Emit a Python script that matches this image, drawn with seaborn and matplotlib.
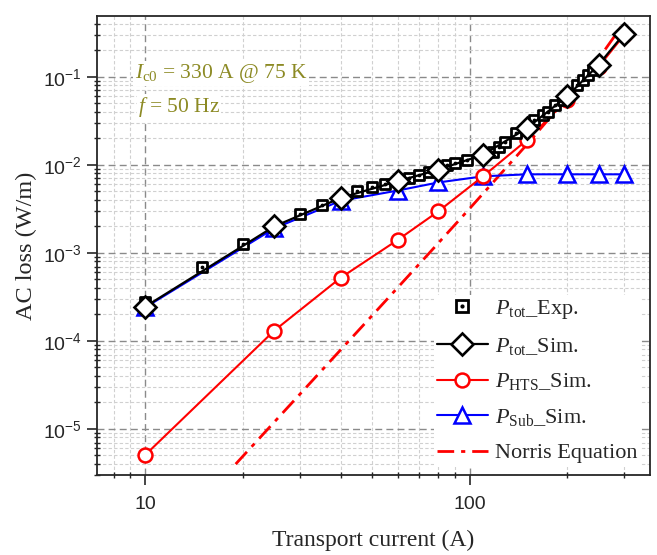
import numpy as np
import pandas as pd
import matplotlib
matplotlib.use("Agg")
import matplotlib.pyplot as plt
import seaborn as sns
from matplotlib.lines import Line2D
from matplotlib.legend_handler import HandlerTuple
from matplotlib.ticker import LogLocator, FuncFormatter, NullFormatter

# ---------------- data ----------------
exp_current = [10, 15, 20, 30, 35, 45, 50, 55, 65, 70, 75, 85, 90, 98, 118, 123, 129,
               139, 158, 168, 174, 184, 194, 215, 223, 231, 240]
exp_loss = [2.8e-4, 6.9e-4, 1.27e-3, 2.75e-3, 3.5e-3, 5.1e-3, 5.6e-3, 6.1e-3, 7.1e-3,
            7.7e-3, 8.3e-3, 1.0e-2, 1.05e-2, 1.14e-2, 1.4e-2, 1.6e-2, 1.8e-2,
            2.3e-2, 3.2e-2, 3.7e-2, 4.0e-2, 4.8e-2, 5.5e-2, 8.1e-2, 9.2e-2, 1.05e-1, 1.2e-1]

sim_current = [10, 25, 40, 60, 80, 110, 150, 200, 250, 300]
tot_sim = [2.45e-4, 2.0e-3, 4.2e-3, 6.5e-3, 8.8e-3, 1.3e-2, 2.6e-2, 6.0e-2, 1.37e-1, 3.1e-1]
hts_sim = [5.07e-6, 1.31e-4, 5.2e-4, 1.4e-3, 2.95e-3, 7.4e-3, 1.9e-2, 5.5e-2, 1.3e-1, 3.0e-1]
sub_sim = [2.4e-4, 1.9e-3, 3.9e-3, 5.1e-3, 6.3e-3, 7.4e-3, 7.8e-3, 7.8e-3, 7.8e-3, 7.8e-3]

norris_current = [19, 30, 50, 75, 100, 150, 200, 250, 300]
norris_loss = [3.99e-6, 2.49e-5, 1.93e-4, 9.89e-4, 3.18e-3, 1.69e-2, 5.80e-2, 1.605e-1, 4.14e-1]

x_tick_values = [10, 100]
x_tick_labels = ["10", "100"]

# ---------------- style ----------------
sns.set_style("ticks")
plt.rcParams["font.family"] = ["Liberation Sans", "DejaVu Sans"]
plt.rcParams["mathtext.fontset"] = "custom"
plt.rcParams["mathtext.rm"] = "Liberation Serif"
plt.rcParams["mathtext.it"] = "Liberation Serif:italic"
plt.rcParams["mathtext.bf"] = "Liberation Serif:bold"
plt.rcParams["mathtext.sf"] = "Liberation Sans"
plt.rcParams["axes.linewidth"] = 1.3

serif = ["Liberation Serif", "DejaVu Serif"]

fig = plt.figure(figsize=(6.57, 5.55), dpi=100)
ax = fig.add_axes([97/657, 1 - 475/555, (650 - 97)/657, (475 - 16)/555])
ax.set_xscale("log")
ax.set_yscale("log")

df_exp = pd.DataFrame({"I": exp_current, "P": exp_loss})
df_sim = pd.DataFrame({"I": sim_current, "tot": tot_sim, "hts": hts_sim, "sub": sub_sim})
df_nor = pd.DataFrame({"I": norris_current, "P": norris_loss})

norris_ls = (0, (6, 2.5, 1.5, 2.5))
# Norris equation
sns.lineplot(data=df_nor, x="I", y="P", ax=ax, color="#ff0000", lw=2.0,
             linestyle=norris_ls, zorder=3)
# Sub
sns.lineplot(data=df_sim, x="I", y="sub", ax=ax, color="#0000ff", lw=1.5,
             marker="^", markersize=11, markerfacecolor="white",
             markeredgecolor="#0000ff", markeredgewidth=1.8, zorder=4)
# HTS
sns.lineplot(data=df_sim, x="I", y="hts", ax=ax, color="#ff0000", lw=1.5,
             marker="o", markersize=10, markerfacecolor="white",
             markeredgecolor="#ff0000", markeredgewidth=1.8, zorder=4)
# exp squares
sns.scatterplot(data=df_exp, x="I", y="P", ax=ax, marker="s", s=62,
                facecolor="white", edgecolor="black", linewidth=2.0, zorder=5)
ax.scatter(exp_current, exp_loss, s=3, color="black", zorder=6)
# tot sim
sns.lineplot(data=df_sim, x="I", y="tot", ax=ax, color="black", lw=1.6,
             marker="D", markersize=11, markerfacecolor="white",
             markeredgecolor="black", markeredgewidth=1.9, zorder=7)

ax.set_xlim(7.1, 360)
ax.set_ylim(3.0e-6, 0.49)

# grid
ax.grid(True, which="major", color="#8a8a8a", linestyle=(0, (5, 3)), lw=1.0)
ax.grid(True, which="minor", color="#d0d0d0", linestyle=(0, (3, 2)), lw=0.8)
ax.set_axisbelow(True)

ax.yaxis.set_major_locator(LogLocator(base=10, numticks=20))
ax.yaxis.set_minor_locator(LogLocator(base=10, subs=np.arange(2, 10), numticks=20))
ax.set_xticks(x_tick_values)
ax.xaxis.set_major_formatter(FuncFormatter(lambda v, p: x_tick_labels[x_tick_values.index(int(round(v)))] if int(round(v)) in x_tick_values else ""))
ax.xaxis.set_minor_locator(LogLocator(base=10, subs=np.arange(2, 10), numticks=20))
ax.xaxis.set_minor_formatter(NullFormatter())
ax.yaxis.set_minor_formatter(NullFormatter())

ax.tick_params(which="major", direction="out", length=7, width=1.2, labelsize=14, pad=4)
ax.tick_params(which="minor", direction="inout", length=5, width=1.0)
ax.tick_params(axis="x", which="major", pad=8)

ax.set_xlabel("Transport current (A)", fontsize=17, family=serif, labelpad=12)
ax.set_ylabel("AC loss (W/m)", fontsize=17.5, family=serif, labelpad=4)

# annotation
olive = "#8c8a24"
ax.text(0.068, 0.865, r"$I_{\mathrm{c0}}$ = 330 A @ 75 K", transform=ax.transAxes,
        fontsize=15.5, color=olive, family=serif, va="baseline",
        bbox=dict(facecolor="white", edgecolor="none", pad=1))
ax.text(0.074, 0.79, r"$f$ = 50 Hz", transform=ax.transAxes,
        fontsize=15.5, color=olive, family=serif, va="baseline",
        bbox=dict(facecolor="white", edgecolor="none", pad=1))

# legend
h_exp = (Line2D([], [], ls="none", marker="s", markersize=8.5, markerfacecolor="white",
                markeredgecolor="black", markeredgewidth=2.0),
         Line2D([], [], ls="none", marker="o", markersize=2, color="black"))
h_tot = Line2D([], [], color="black", lw=1.6, marker="D", markersize=11,
               markerfacecolor="white", markeredgecolor="black", markeredgewidth=1.9)
h_hts = Line2D([], [], color="#ff0000", lw=1.5, marker="o", markersize=10,
               markerfacecolor="white", markeredgecolor="#ff0000", markeredgewidth=1.8)
h_sub = Line2D([], [], color="#0000ff", lw=1.5, marker="^", markersize=11,
               markerfacecolor="white", markeredgecolor="#0000ff", markeredgewidth=1.8)
h_nor = Line2D([], [], color="#ff0000", lw=2.0, linestyle=norris_ls)
labels = [r"$P_{\mathrm{tot}}$_Exp.", r"$P_{\mathrm{tot}}$_Sim.",
          r"$P_{\mathrm{HTS}}$_Sim.", r"$P_{\mathrm{Sub}}$_Sim.", "Norris Equation"]
leg = ax.legend([h_exp, h_tot, h_hts, h_sub, h_nor], labels,
                handler_map={tuple: HandlerTuple(ndivide=1, pad=0)},
                loc="lower right", bbox_to_anchor=(1.003, -0.006),
                prop={"family": serif, "size": 16}, frameon=True, framealpha=1,
                edgecolor="none", fancybox=False, handlelength=2.3,
                handletextpad=0.3, labelspacing=0.66, borderpad=0.15)
leg.set_zorder(10)

fig.savefig("out.png", dpi=100)
